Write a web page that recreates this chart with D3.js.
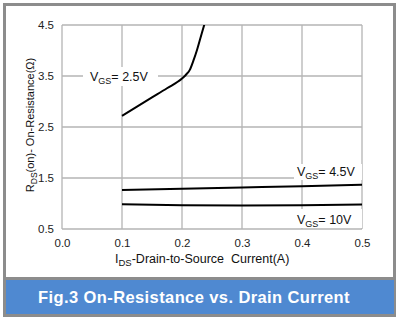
<!DOCTYPE html>
<html><head><meta charset="utf-8">
<script src="https://cdn.jsdelivr.net/npm/d3@7"></script>
<style>html,body{margin:0;padding:0;background:#fff;}svg{display:block;font-family:"Liberation Sans",Arial,sans-serif;}</style>
</head><body>
<script>
const xTicks = [0.0, 0.1, 0.2, 0.3, 0.4, 0.5];
const yTicks = [0.5, 1.5, 2.5, 3.5, 4.5];
const seriesNames = ["2.5V", "4.5V", "10V"];
const vgs25 = [[0.1,2.72],[0.125,2.9],[0.15,3.08],[0.175,3.26],[0.2,3.45],[0.207,3.53],[0.213,3.62],[0.219,3.8],[0.225,4.01],[0.233,4.34],[0.239,4.58]];
const vgs45 = [[0.1,1.265],[0.2,1.29],[0.3,1.315],[0.4,1.34],[0.5,1.37]];
const vgs10 = [[0.1,0.985],[0.2,0.966],[0.3,0.96],[0.4,0.964],[0.5,0.978]];
const title = "Fig.3 On-Resistance vs. Drain Current";

const W = 400, H = 321;
const svg = d3.select("body").append("svg").attr("width", W).attr("height", H);
const L = 62, R = 362, T = 25, B = 229;
const x = d3.scaleLinear().domain([0, 0.5]).range([L, R]);
const y = d3.scaleLinear().domain([0.5, 4.5]).range([B, T]);

// outer frame
svg.append("rect").attr("x", 4.5).attr("y", 4.5).attr("width", 390).attr("height", 311)
  .attr("fill", "#fff").attr("stroke", "#8c8c8c").attr("stroke-width", 3);
svg.append("rect").attr("x", 6).attr("y", 280).attr("width", 388).attr("height", 34).attr("fill", "#4f89d1");
svg.append("line").attr("x1", 6).attr("x2", 394).attr("y1", 278.5).attr("y2", 278.5).attr("stroke", "#8c8c8c").attr("stroke-width", 3);
svg.append("text").attr("x", 194).attr("y", 303).attr("text-anchor", "middle")
  .attr("fill", "#fff").attr("font-weight", "bold").attr("font-size", 16.5)
  .attr("letter-spacing", 0.4).text(title);

// grid
const g = svg.append("g");
g.selectAll(".vg").data(xTicks).join("line")
  .attr("x1", d => x(d)).attr("x2", d => x(d)).attr("y1", T).attr("y2", B)
  .attr("stroke", "#b4b4b4").attr("stroke-width", 1.3);
g.selectAll(".hg").data(yTicks).join("line")
  .attr("x1", L).attr("x2", R).attr("y1", d => y(d)).attr("y2", d => y(d))
  .attr("stroke", "#b4b4b4").attr("stroke-width", 1.3);

// axes (labels only)
const xAxis = svg.append("g").attr("transform", `translate(0,${B})`)
  .call(d3.axisBottom(x).tickValues(xTicks).tickFormat(d3.format(".1f")).tickSize(0).tickPadding(10));
const yAxis = svg.append("g").attr("transform", `translate(${L},0)`)
  .call(d3.axisLeft(y).tickValues(yTicks).tickFormat(d3.format(".1f")).tickSize(0).tickPadding(8));
[xAxis, yAxis].forEach(a => {
  a.select(".domain").remove();
  a.selectAll("text").attr("font-size", 11.5).attr("fill", "#222").attr("font-family", '"Liberation Sans",Arial,sans-serif');
});

// clip
svg.append("clipPath").attr("id", "clip").append("rect").attr("x", L).attr("y", T).attr("width", R - L).attr("height", B - T);

// label boxes
function vgsLabel(tx, ty, val, bx, by, bw, bh) {
  svg.append("rect").attr("x", bx).attr("y", by).attr("width", bw).attr("height", bh).attr("fill", "#fff");
  const t = svg.append("text").attr("x", tx).attr("y", ty).attr("font-size", 12.5).attr("fill", "#111");
  t.append("tspan").text("V");
  t.append("tspan").attr("font-size", 9).attr("dy", 3).text("GS");
  t.append("tspan").attr("dy", -3).text("= " + val);
}
vgsLabel(90, 81, seriesNames[0], 83, 67, 75, 19);
vgsLabel(297, 176, seriesNames[1], 294, 164, 68, 16);
vgsLabel(297, 224, seriesNames[2], 294, 209, 68, 19);

// curves
const line = d3.line().x(d => x(d[0])).y(d => y(d[1])).curve(d3.curveMonotoneX);
[vgs25, vgs45, vgs10].forEach(s => {
  svg.append("path").datum(s).attr("d", line).attr("clip-path", "url(#clip)")
    .attr("fill", "none").attr("stroke", "#000").attr("stroke-width", 2);
});

// axis titles
const xt = svg.append("text").attr("x", 115).attr("y", 263).attr("font-size", 12.5).attr("fill", "#111");
xt.append("tspan").text("I");
xt.append("tspan").attr("font-size", 9.5).attr("dy", 3).text("DS");
xt.append("tspan").attr("dy", -3).text("-Drain-to-Source\u00a0\u00a0Current(A)");

const yt = svg.append("text").attr("transform", "translate(34,125) rotate(-90)").attr("text-anchor", "middle").attr("font-size", 11).attr("fill", "#111");
yt.append("tspan").text("R");
yt.append("tspan").attr("font-size", 8.5).attr("dy", 2.5).text("DS");
yt.append("tspan").attr("dy", -2.5).text("(on)- On-Resistance(Ω)");
</script>
</body></html>
